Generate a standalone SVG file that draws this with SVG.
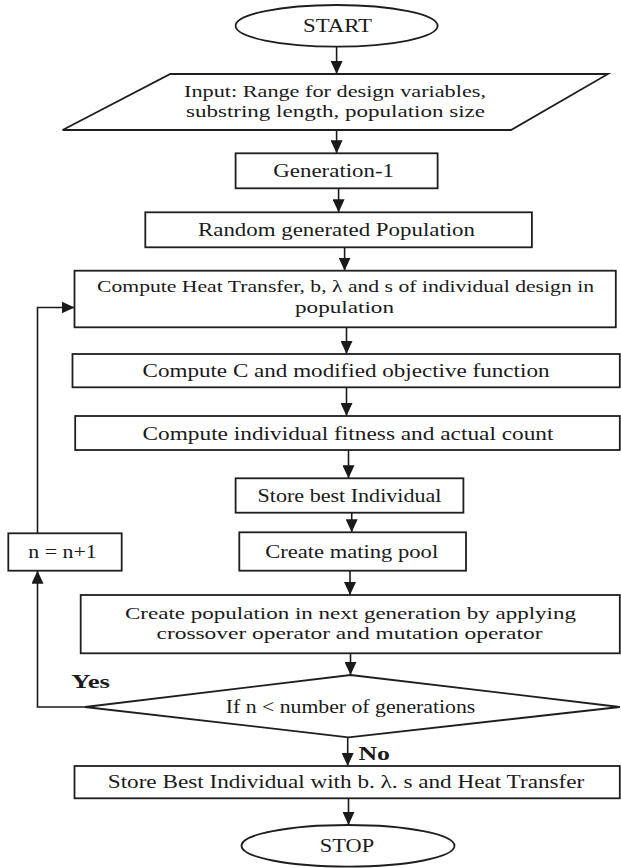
<svg xmlns="http://www.w3.org/2000/svg" width="621" height="868" viewBox="0 0 621 868">
<style>
.shape{fill:#fff;stroke:#1e1e1e;stroke-width:1.8}
.t{font-family:"Liberation Serif","Times New Roman",serif;font-size:19px;fill:#1a1a1a;text-anchor:middle}
.m{font-size:17px}
.b{font-weight:bold;text-anchor:start}
.c{fill:none;stroke:#1a1a1a;stroke-width:1.6}
</style>
<defs>
<marker id="ah" markerUnits="userSpaceOnUse" markerWidth="13" markerHeight="12" refX="13" refY="6" orient="auto"><path d="M0,0 L13,6 L0,12 z" fill="#1a1a1a"/></marker>
</defs>
<rect width="621" height="868" fill="#fff"/>
<g id="connectors">
<path class="c" marker-end="url(#ah)" d="M336.6,46.7 V74"/>
<path class="c" marker-end="url(#ah)" d="M336.6,130 V153.3"/>
<path class="c" marker-end="url(#ah)" d="M338.6,188.3 V212.3"/>
<path class="c" marker-end="url(#ah)" d="M344.6,247.3 V270.7"/>
<path class="c" marker-end="url(#ah)" d="M346.5,327.3 V354"/>
<path class="c" marker-end="url(#ah)" d="M346.5,387.3 V416"/>
<path class="c" marker-end="url(#ah)" d="M348.5,450 V478.3"/>
<path class="c" marker-end="url(#ah)" d="M351.7,512.7 V532.3"/>
<path class="c" marker-end="url(#ah)" d="M350,570.7 V595"/>
<path class="c" marker-end="url(#ah)" d="M350.5,653.3 V675"/>
<path class="c" marker-end="url(#ah)" d="M347.7,737.3 V766"/>
<path class="c" marker-end="url(#ah)" d="M348.5,798.3 V825"/>
<path class="c" marker-end="url(#ah)" d="M85,707 H37.5 V570.7"/>
<path class="c" marker-end="url(#ah)" d="M37.5,533.3 V307.5 H74.5"/>
<text class="t b" x="71.3" y="687.5" textLength="38.7" lengthAdjust="spacingAndGlyphs">Yes</text>
<text class="t b" x="358.4" y="760" textLength="31.6" lengthAdjust="spacingAndGlyphs">No</text>
</g>
<g id="start">
<ellipse class="shape" cx="336.6" cy="25.8" rx="101" ry="20.8"/>
<text class="t" x="337.5" y="32.3" textLength="69" lengthAdjust="spacingAndGlyphs">START</text>
</g>
<g id="input">
<polygon class="shape" points="170.3,74 608,74 511,130 62.6,130"/>
<text class="t m" x="335" y="96.5" textLength="302" lengthAdjust="spacingAndGlyphs">Input: Range for design variables,</text>
<text class="t m" x="335.5" y="117" textLength="299" lengthAdjust="spacingAndGlyphs">substring length, population size</text>
</g>
<g id="gen1">
<rect class="shape" x="235.6" y="153.3" width="202" height="35"/>
<text class="t" x="333.7" y="177.3" textLength="120.7" lengthAdjust="spacingAndGlyphs">Generation-1</text>
</g>
<g id="random">
<rect class="shape" x="145.3" y="212.3" width="386.6" height="35"/>
<text class="t" x="336.5" y="236.3" textLength="277" lengthAdjust="spacingAndGlyphs">Random generated Population</text>
</g>
<g id="heat">
<rect class="shape" x="74.5" y="270.7" width="541.3" height="56.6"/>
<text class="t m" x="345.5" y="292" textLength="497" lengthAdjust="spacingAndGlyphs">Compute Heat Transfer, b, λ and s of individual design in</text>
<text class="t m" x="344.5" y="312.5" textLength="99" lengthAdjust="spacingAndGlyphs">population</text>
</g>
<g id="computec">
<rect class="shape" x="72.5" y="354" width="547.3" height="33.3"/>
<text class="t" x="346" y="377" textLength="407" lengthAdjust="spacingAndGlyphs">Compute C and modified objective function</text>
</g>
<g id="fitness">
<rect class="shape" x="75.2" y="416" width="544.6" height="34"/>
<text class="t" x="348" y="439.5" textLength="411" lengthAdjust="spacingAndGlyphs">Compute individual fitness and actual count</text>
</g>
<g id="storebest">
<rect class="shape" x="235.6" y="478.3" width="227.8" height="34.4"/>
<text class="t" x="349.5" y="502" textLength="184" lengthAdjust="spacingAndGlyphs">Store best Individual</text>
</g>
<g id="mating">
<rect class="shape" x="239.3" y="532.3" width="226.7" height="38.4"/>
<text class="t" x="351.7" y="557.5" textLength="173" lengthAdjust="spacingAndGlyphs">Create mating pool</text>
</g>
<g id="increment">
<rect class="shape" x="8.3" y="533.3" width="113.4" height="37.4"/>
<text class="t" x="62.5" y="557.5" textLength="68.4" lengthAdjust="spacingAndGlyphs">n = n+1</text>
</g>
<g id="newpop">
<rect class="shape" x="80.7" y="595" width="539.1" height="58.3"/>
<text class="t m" x="350.5" y="618.5" textLength="451" lengthAdjust="spacingAndGlyphs">Create population in next generation by applying</text>
<text class="t m" x="349.5" y="639" textLength="386" lengthAdjust="spacingAndGlyphs">crossover operator and mutation operator</text>
</g>
<g id="decision">
<polygon class="shape" points="350.5,675 619.8,707 348.5,737.3 85,707"/>
<text class="t" x="350.5" y="713.3" textLength="249.5" lengthAdjust="spacingAndGlyphs">If n &lt; number of generations</text>
</g>
<g id="storefinal">
<rect class="shape" x="74.5" y="766" width="545.3" height="32.3"/>
<text class="t" x="346" y="788.3" textLength="476.5" lengthAdjust="spacingAndGlyphs">Store Best Individual with b. λ. s and Heat Transfer</text>
</g>
<g id="stop">
<ellipse class="shape" cx="348" cy="845.8" rx="106.5" ry="20.8"/>
<text class="t" x="347" y="852" textLength="54.3" lengthAdjust="spacingAndGlyphs">STOP</text>
</g>
</svg>
